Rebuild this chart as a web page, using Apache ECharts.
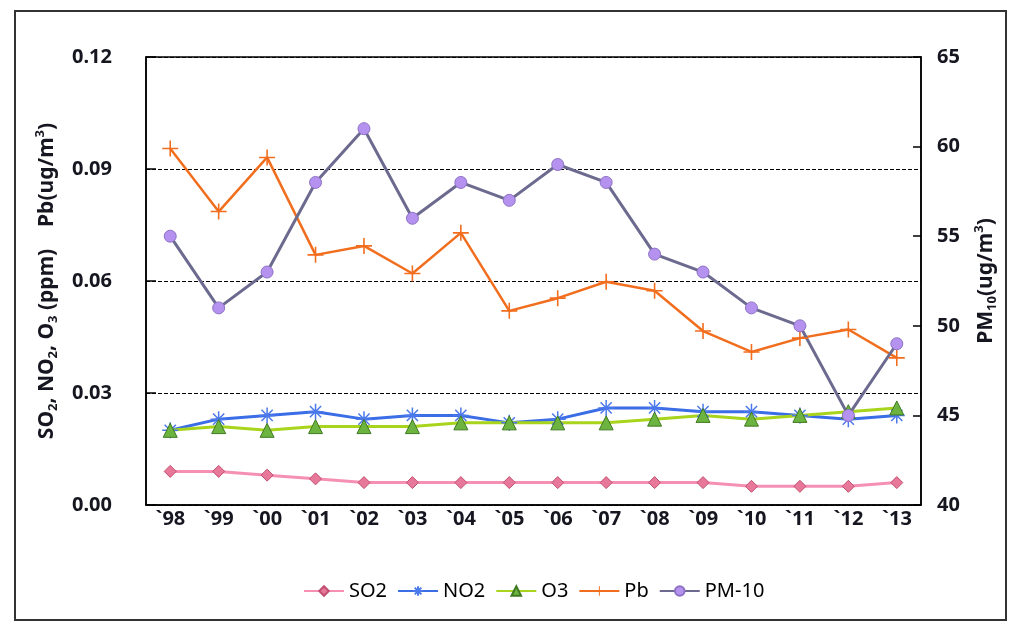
<!DOCTYPE html>
<html>
<head>
<meta charset="utf-8">
<script src="https://cdn.jsdelivr.net/npm/echarts@6/dist/echarts.min.js"></script>
<style>
html,body{margin:0;padding:0;background:#fff;}
#chart{width:1016px;height:632px;}
</style>
</head>
<body>
<div id="chart"></div>
<script>
const years = ['`98','`99','`00','`01','`02','`03','`04','`05','`06','`07','`08','`09','`10','`11','`12','`13'];
const so2  = [0.009,0.009,0.008,0.007,0.006,0.006,0.006,0.006,0.006,0.006,0.006,0.006,0.005,0.005,0.005,0.006];
const no2  = [0.020,0.023,0.024,0.025,0.023,0.024,0.024,0.022,0.023,0.026,0.026,0.025,0.025,0.024,0.023,0.024];
const o3   = [0.020,0.021,0.020,0.021,0.021,0.021,0.022,0.022,0.022,0.022,0.023,0.024,0.023,0.024,0.025,0.026];
const pb   = [0.0955,0.0786,0.0931,0.067,0.0694,0.062,0.0729,0.052,0.0554,0.0598,0.0574,0.0466,0.041,0.0447,0.047,0.0394];
const pm10 = [55,51,53,58,61,56,58,57,59,58,54,53,51,50,45,49];
const leftTicks = {min:0, max:0.12, interval:0.03};
const rightTicks = {min:40, max:65, interval:5};

const FONT = '"Noto Sans","DejaVu Sans",sans-serif';
const TXT = '#161620';

const plusPath = 'path://M-1,-10 L1,-10 L1,-1 L10,-1 L10,1 L1,1 L1,10 L-1,10 L-1,1 L-10,1 L-10,-1 L-1,-1 Z';
const starPath = 'path://M0,-10 L0,10 M-10,0 L10,0 M-7,-7 L7,7 M-7,7 L7,-7';

const nameRich = {
  n:{fontSize:21, fontWeight:'bold', color:TXT, fontFamily:FONT, lineHeight:26},
  s:{fontSize:13, fontWeight:'bold', color:TXT, fontFamily:FONT, lineHeight:13, verticalAlign:'bottom'},
  p:{fontSize:13, fontWeight:'bold', color:TXT, fontFamily:FONT, lineHeight:13, verticalAlign:'top'}
};

const chart = echarts.init(document.getElementById('chart'), null, {renderer:'canvas'});
chart.setOption({
  backgroundColor:'#fff',
  animation:false,
  graphic:[{
    type:'rect', shape:{x:15, y:11, width:991, height:609},
    style:{fill:'none', stroke:'#333', lineWidth:2}, z:-1
  }],
  grid:{left:146, right:95, top:57, bottom:127, show:true, borderColor:'#000', borderWidth:1.5},
  legend:{
    bottom:26, left:298,
    itemWidth:40, itemHeight:12, itemGap:10,
    textStyle:{fontSize:20, color:'#000', fontFamily:FONT},
    data:['SO2','NO2','O3','Pb','PM-10']
  },
  xAxis:{
    type:'category', data:years, boundaryGap:true,
    axisLine:{lineStyle:{color:'#000', width:1.5}},
    axisTick:{inside:true, length:10, lineStyle:{color:'#000', width:1.5}},
    axisLabel:{fontSize:20, fontWeight:'bold', color:TXT, fontFamily:FONT, margin:4}
  },
  yAxis:[{
    type:'value', min:leftTicks.min, max:leftTicks.max, interval:leftTicks.interval,
    position:'left',
    name:'{n|SO}{s|2}{n|, NO}{s|2}{n|, O}{s|3}{n| (ppm)    Pb(ug/m}{p|3}{n|)}',
    nameLocation:'middle', nameRotate:90, nameGap:86,
    nameTextStyle:{rich:nameRich},
    axisLine:{show:true, lineStyle:{color:'#000', width:1.5}},
    axisTick:{show:true, inside:true, length:10, lineStyle:{color:'#000', width:1.5}},
    axisLabel:{fontSize:20, fontWeight:'bold', color:TXT, fontFamily:FONT, margin:34,
      formatter:v=>v.toFixed(2)},
    splitLine:{show:true, lineStyle:{color:'#000', type:[4,2], width:1}}
  },{
    type:'value', min:rightTicks.min, max:rightTicks.max, interval:rightTicks.interval,
    position:'right',
    name:'{n|PM}{s|10}{n|(ug/m}{p|3}{n|)}',
    nameLocation:'middle', nameRotate:90, nameGap:52,
    nameTextStyle:{rich:nameRich},
    axisLine:{show:true, lineStyle:{color:'#000', width:1.5}},
    axisTick:{show:true, inside:true, length:8, lineStyle:{color:'#000', width:1.5}},
    axisLabel:{fontSize:20, fontWeight:'bold', color:TXT, fontFamily:FONT, margin:16},
    splitLine:{show:false}
  }],
  series:[{
    name:'SO2', type:'line', data:so2, yAxisIndex:0,
    symbol:'diamond', symbolSize:12,
    lineStyle:{color:'#f590b4', width:3},
    itemStyle:{color:'#e8789a', borderColor:'#c24f70', borderWidth:1}
  },{
    name:'NO2', type:'line', data:no2, yAxisIndex:0,
    symbol:starPath, symbolSize:16,
    lineStyle:{color:'#3b6de6', width:3},
    itemStyle:{color:'#4b78ea', borderColor:'#4b78ea', borderWidth:1.5}
  },{
    name:'O3', type:'line', data:o3, yAxisIndex:0,
    symbol:'triangle', symbolSize:14,
    lineStyle:{color:'#a8d41c', width:3},
    itemStyle:{color:'#6db33f', borderColor:'#3f7a22', borderWidth:1}
  },{
    name:'Pb', type:'line', data:pb, yAxisIndex:0,
    symbol:plusPath, symbolSize:16,
    lineStyle:{color:'#f26e1f', width:2.5},
    itemStyle:{color:'#f26e1f', borderColor:'#f26e1f', borderWidth:0}
  },{
    name:'PM-10', type:'line', data:pm10, yAxisIndex:1,
    symbol:'circle', symbolSize:12,
    lineStyle:{color:'#6c6a8e', width:3},
    itemStyle:{color:'#b592ef', borderColor:'#8d72c4', borderWidth:1}
  }]
});
</script>
</body>
</html>
